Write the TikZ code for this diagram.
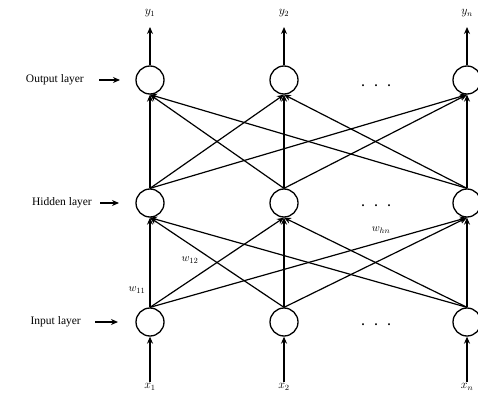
\documentclass[tikz,border=0pt]{standalone}
\usepackage{fontspec}
\setmainfont{Liberation Serif}
\usetikzlibrary{arrows.meta}
\begin{document}
\begin{tikzpicture}[x=1pt,y=-1pt,
  neuron/.style={circle,draw,line width=1.3pt,minimum size=28pt,inner sep=0pt},
  conn/.style={line width=1.2pt,-{Stealth[length=7pt,width=6pt]}},
  layername/.style={font=\fontsize{11.5}{12}\selectfont,anchor=east,inner sep=0pt},
  sym/.style={font=\fontsize{12}{12}\selectfont,inner sep=1pt},
  wlabel/.style={font=\fontsize{11}{11}\selectfont,inner sep=0pt},
  dotrow/.style={font=\fontsize{12}{12}\selectfont\bfseries,inner sep=0pt}]
\useasboundingbox (0,0) rectangle (478,398);

% neurons
\foreach \c/\x in {1/150,2/284,n/467}{
  \node[neuron] (o\c) at (\x,80) {};
  \node[neuron] (h\c) at (\x,203) {};
  \node[neuron] (i\c) at (\x,322) {};
}

% ellipses between the second and last columns
\foreach \r/\y in {o/86,h/206,i/325}
  \node[dotrow] (dots\r) at (376,\y) {.\hspace{10pt}.\hspace{10pt}.};

% full connections between consecutive layers
\foreach \s in {1,2,n}
  \foreach \t in {1,2,n}{
    \draw[conn] (i\s.north) -- (h\t.south);
    \draw[conn] (h\s.north) -- (o\t.south);
  }

% inputs and outputs
\foreach \c/\x in {1/150,2/284,n/467}{
  \node[sym] (x\c) at (\x,387) {$x_{\c}$};
  \node[sym] (y\c) at (\x,13) {$y_{\c}$};
  \draw[conn] (x\c.north) -- (i\c.south);
  \coordinate (yt\c) at (\x,27);
  \draw[conn] (o\c.north) -- (yt\c);
}

% layer names
\node[layername] (lo) at (84,80) {Output layer};
\node[layername] (lh) at (92,203) {Hidden layer};
\node[layername] (li) at (81,322) {Input layer};
\coordinate (lot) at (120,80);
\coordinate (lht) at (119,203);
\coordinate (lit) at (118,322);
\draw[conn] ([xshift=15pt]lo.east) -- (lot);
\draw[conn] ([xshift=8pt]lh.east) -- (lht);
\draw[conn] ([xshift=14pt]li.east) -- (lit);

% weight labels
\node[wlabel] (w11) at (137,290) {$w_{11}$};
\node[wlabel] (w12) at (190,260) {$w_{12}$};
\node[wlabel] (whn) at (381,230) {$w_{hn}$};
\end{tikzpicture}
\end{document}
